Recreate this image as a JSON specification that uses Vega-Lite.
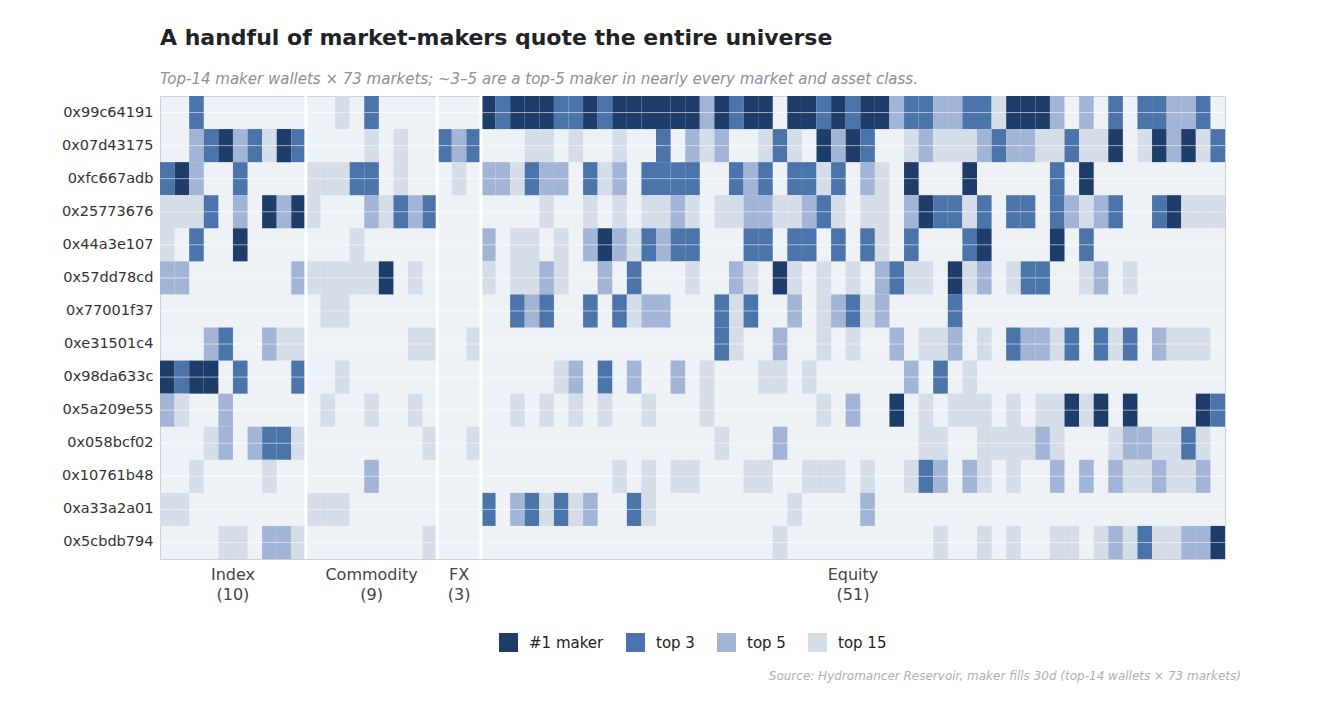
{
"$schema": "https://vega.github.io/schema/vega-lite/v6.json",
"background": "white",
"padding": {"left": 60, "top": 26, "right": 10, "bottom": 10},
"config": {"font": "DejaVu Sans", "view": {"stroke": null}, "legend": {"layout": {"bottom": {"anchor": "middle"}}}},
"title": {"text": "Source: Hydromancer Reservoir, maker fills 30d (top-14 wallets × 73 markets)", "orient": "bottom", "anchor": "end", "fontSize": 12, "fontStyle": "italic", "fontWeight": "normal", "color": "#b0b0b0", "offset": 19, "dx": 15},
"vconcat": [{
"width": 1065, "height": 463,
"title": {"text": "A handful of market-makers quote the entire universe", "subtitle": "Top-14 maker wallets × 73 markets; ~3–5 are a top-5 maker in nearly every market and asset class.", "anchor": "start", "frame": "group", "fontSize": 22, "fontWeight": "bold", "color": "#1f2328", "subtitleFontSize": 15, "subtitleFontStyle": "italic", "subtitleColor": "#8c9097", "subtitlePadding": 22, "offset": 7},
"view": {"fill": "#eef2f7", "stroke": "#c9d1db", "strokeWidth": 1},
"layer": [
{"data": {"values": [
{"w":"0x99c64191","m":2,"r":"top 3"},{"w":"0x99c64191","m":12,"r":"top 15"},{"w":"0x99c64191","m":14,"r":"top 3"},
{"w":"0x99c64191","m":22,"r":"#1 maker"},{"w":"0x99c64191","m":23,"r":"top 3"},{"w":"0x99c64191","m":24,"r":"#1 maker"},{"w":"0x99c64191","m":25,"r":"#1 maker"},{"w":"0x99c64191","m":26,"r":"#1 maker"},{"w":"0x99c64191","m":27,"r":"top 3"},{"w":"0x99c64191","m":28,"r":"top 3"},{"w":"0x99c64191","m":29,"r":"#1 maker"},{"w":"0x99c64191","m":30,"r":"top 3"},{"w":"0x99c64191","m":31,"r":"#1 maker"},{"w":"0x99c64191","m":32,"r":"#1 maker"},{"w":"0x99c64191","m":33,"r":"#1 maker"},{"w":"0x99c64191","m":34,"r":"#1 maker"},{"w":"0x99c64191","m":35,"r":"#1 maker"},{"w":"0x99c64191","m":36,"r":"#1 maker"},
{"w":"0x99c64191","m":37,"r":"top 5"},{"w":"0x99c64191","m":38,"r":"#1 maker"},{"w":"0x99c64191","m":39,"r":"top 3"},{"w":"0x99c64191","m":40,"r":"#1 maker"},{"w":"0x99c64191","m":41,"r":"#1 maker"},{"w":"0x99c64191","m":43,"r":"#1 maker"},{"w":"0x99c64191","m":44,"r":"#1 maker"},{"w":"0x99c64191","m":45,"r":"top 3"},{"w":"0x99c64191","m":46,"r":"#1 maker"},{"w":"0x99c64191","m":47,"r":"top 3"},{"w":"0x99c64191","m":48,"r":"#1 maker"},{"w":"0x99c64191","m":49,"r":"#1 maker"},{"w":"0x99c64191","m":50,"r":"top 5"},{"w":"0x99c64191","m":51,"r":"top 3"},{"w":"0x99c64191","m":52,"r":"top 3"},{"w":"0x99c64191","m":53,"r":"top 5"},{"w":"0x99c64191","m":54,"r":"top 5"},
{"w":"0x99c64191","m":55,"r":"top 3"},{"w":"0x99c64191","m":56,"r":"top 3"},{"w":"0x99c64191","m":57,"r":"top 15"},{"w":"0x99c64191","m":58,"r":"#1 maker"},{"w":"0x99c64191","m":59,"r":"#1 maker"},{"w":"0x99c64191","m":60,"r":"#1 maker"},{"w":"0x99c64191","m":61,"r":"top 5"},{"w":"0x99c64191","m":63,"r":"top 5"},{"w":"0x99c64191","m":65,"r":"top 3"},{"w":"0x99c64191","m":67,"r":"top 3"},{"w":"0x99c64191","m":68,"r":"top 3"},{"w":"0x99c64191","m":69,"r":"top 5"},{"w":"0x99c64191","m":70,"r":"top 5"},{"w":"0x99c64191","m":71,"r":"top 3"},

{"w":"0x07d43175","m":2,"r":"top 5"},{"w":"0x07d43175","m":3,"r":"top 3"},{"w":"0x07d43175","m":4,"r":"#1 maker"},{"w":"0x07d43175","m":5,"r":"top 5"},{"w":"0x07d43175","m":6,"r":"top 3"},{"w":"0x07d43175","m":7,"r":"top 15"},{"w":"0x07d43175","m":8,"r":"#1 maker"},{"w":"0x07d43175","m":9,"r":"top 3"},
{"w":"0x07d43175","m":14,"r":"top 15"},{"w":"0x07d43175","m":16,"r":"top 15"},
{"w":"0x07d43175","m":19,"r":"top 3"},{"w":"0x07d43175","m":20,"r":"top 5"},{"w":"0x07d43175","m":21,"r":"top 3"},
{"w":"0x07d43175","m":25,"r":"top 15"},{"w":"0x07d43175","m":26,"r":"top 15"},{"w":"0x07d43175","m":28,"r":"top 15"},{"w":"0x07d43175","m":31,"r":"top 15"},{"w":"0x07d43175","m":34,"r":"top 3"},{"w":"0x07d43175","m":36,"r":"top 5"},
{"w":"0x07d43175","m":37,"r":"top 15"},{"w":"0x07d43175","m":38,"r":"top 5"},{"w":"0x07d43175","m":41,"r":"top 15"},{"w":"0x07d43175","m":42,"r":"top 3"},{"w":"0x07d43175","m":43,"r":"top 15"},{"w":"0x07d43175","m":45,"r":"#1 maker"},{"w":"0x07d43175","m":46,"r":"top 5"},{"w":"0x07d43175","m":47,"r":"#1 maker"},{"w":"0x07d43175","m":48,"r":"top 3"},{"w":"0x07d43175","m":51,"r":"top 15"},{"w":"0x07d43175","m":52,"r":"top 5"},{"w":"0x07d43175","m":53,"r":"top 15"},{"w":"0x07d43175","m":54,"r":"top 15"},
{"w":"0x07d43175","m":55,"r":"top 15"},{"w":"0x07d43175","m":56,"r":"top 5"},{"w":"0x07d43175","m":57,"r":"top 3"},{"w":"0x07d43175","m":58,"r":"top 5"},{"w":"0x07d43175","m":59,"r":"top 5"},{"w":"0x07d43175","m":60,"r":"top 15"},{"w":"0x07d43175","m":61,"r":"top 15"},{"w":"0x07d43175","m":62,"r":"top 3"},{"w":"0x07d43175","m":63,"r":"top 15"},{"w":"0x07d43175","m":64,"r":"top 15"},{"w":"0x07d43175","m":65,"r":"#1 maker"},{"w":"0x07d43175","m":67,"r":"top 15"},{"w":"0x07d43175","m":68,"r":"#1 maker"},{"w":"0x07d43175","m":69,"r":"top 5"},{"w":"0x07d43175","m":70,"r":"#1 maker"},{"w":"0x07d43175","m":71,"r":"top 15"},{"w":"0x07d43175","m":72,"r":"top 3"},

{"w":"0xfc667adb","m":0,"r":"top 3"},{"w":"0xfc667adb","m":1,"r":"#1 maker"},{"w":"0xfc667adb","m":2,"r":"top 5"},{"w":"0xfc667adb","m":5,"r":"top 3"},
{"w":"0xfc667adb","m":10,"r":"top 15"},{"w":"0xfc667adb","m":11,"r":"top 15"},{"w":"0xfc667adb","m":12,"r":"top 15"},{"w":"0xfc667adb","m":13,"r":"top 3"},{"w":"0xfc667adb","m":14,"r":"top 3"},{"w":"0xfc667adb","m":16,"r":"top 15"},
{"w":"0xfc667adb","m":20,"r":"top 15"},
{"w":"0xfc667adb","m":22,"r":"top 5"},{"w":"0xfc667adb","m":23,"r":"top 5"},{"w":"0xfc667adb","m":24,"r":"top 15"},{"w":"0xfc667adb","m":25,"r":"top 3"},{"w":"0xfc667adb","m":26,"r":"top 5"},{"w":"0xfc667adb","m":27,"r":"top 5"},{"w":"0xfc667adb","m":29,"r":"top 3"},{"w":"0xfc667adb","m":30,"r":"top 15"},{"w":"0xfc667adb","m":31,"r":"top 5"},{"w":"0xfc667adb","m":33,"r":"top 3"},{"w":"0xfc667adb","m":34,"r":"top 3"},{"w":"0xfc667adb","m":35,"r":"top 3"},{"w":"0xfc667adb","m":36,"r":"top 3"},
{"w":"0xfc667adb","m":39,"r":"top 3"},{"w":"0xfc667adb","m":40,"r":"top 5"},{"w":"0xfc667adb","m":41,"r":"top 3"},{"w":"0xfc667adb","m":43,"r":"top 3"},{"w":"0xfc667adb","m":44,"r":"top 3"},{"w":"0xfc667adb","m":45,"r":"top 15"},{"w":"0xfc667adb","m":46,"r":"top 3"},{"w":"0xfc667adb","m":48,"r":"top 5"},{"w":"0xfc667adb","m":49,"r":"top 15"},{"w":"0xfc667adb","m":51,"r":"#1 maker"},
{"w":"0xfc667adb","m":55,"r":"#1 maker"},{"w":"0xfc667adb","m":61,"r":"top 3"},{"w":"0xfc667adb","m":63,"r":"#1 maker"},

{"w":"0x25773676","m":0,"r":"top 15"},{"w":"0x25773676","m":1,"r":"top 15"},{"w":"0x25773676","m":2,"r":"top 15"},{"w":"0x25773676","m":3,"r":"top 3"},{"w":"0x25773676","m":5,"r":"top 5"},{"w":"0x25773676","m":7,"r":"#1 maker"},{"w":"0x25773676","m":8,"r":"top 5"},{"w":"0x25773676","m":9,"r":"#1 maker"},
{"w":"0x25773676","m":10,"r":"top 15"},{"w":"0x25773676","m":14,"r":"top 5"},{"w":"0x25773676","m":15,"r":"top 15"},{"w":"0x25773676","m":16,"r":"top 3"},{"w":"0x25773676","m":17,"r":"top 5"},{"w":"0x25773676","m":18,"r":"top 3"},
{"w":"0x25773676","m":26,"r":"top 15"},{"w":"0x25773676","m":29,"r":"top 15"},{"w":"0x25773676","m":31,"r":"top 15"},{"w":"0x25773676","m":33,"r":"top 15"},{"w":"0x25773676","m":34,"r":"top 15"},{"w":"0x25773676","m":35,"r":"top 5"},{"w":"0x25773676","m":36,"r":"top 15"},
{"w":"0x25773676","m":38,"r":"top 15"},{"w":"0x25773676","m":39,"r":"top 15"},{"w":"0x25773676","m":40,"r":"top 5"},{"w":"0x25773676","m":41,"r":"top 5"},{"w":"0x25773676","m":42,"r":"top 15"},{"w":"0x25773676","m":43,"r":"top 15"},{"w":"0x25773676","m":44,"r":"top 5"},{"w":"0x25773676","m":45,"r":"top 3"},{"w":"0x25773676","m":46,"r":"top 15"},{"w":"0x25773676","m":48,"r":"top 15"},{"w":"0x25773676","m":49,"r":"top 15"},{"w":"0x25773676","m":51,"r":"top 5"},{"w":"0x25773676","m":52,"r":"#1 maker"},{"w":"0x25773676","m":53,"r":"top 3"},{"w":"0x25773676","m":54,"r":"top 3"},
{"w":"0x25773676","m":55,"r":"top 15"},{"w":"0x25773676","m":56,"r":"top 3"},{"w":"0x25773676","m":58,"r":"top 3"},{"w":"0x25773676","m":59,"r":"top 3"},{"w":"0x25773676","m":61,"r":"top 3"},{"w":"0x25773676","m":62,"r":"top 5"},{"w":"0x25773676","m":63,"r":"top 15"},{"w":"0x25773676","m":64,"r":"top 5"},{"w":"0x25773676","m":65,"r":"top 3"},{"w":"0x25773676","m":68,"r":"top 3"},{"w":"0x25773676","m":69,"r":"#1 maker"},{"w":"0x25773676","m":70,"r":"top 15"},{"w":"0x25773676","m":71,"r":"top 15"},{"w":"0x25773676","m":72,"r":"top 15"},

{"w":"0x44a3e107","m":0,"r":"top 15"},{"w":"0x44a3e107","m":2,"r":"top 3"},{"w":"0x44a3e107","m":5,"r":"#1 maker"},
{"w":"0x44a3e107","m":13,"r":"top 15"},
{"w":"0x44a3e107","m":22,"r":"top 5"},{"w":"0x44a3e107","m":24,"r":"top 15"},{"w":"0x44a3e107","m":25,"r":"top 15"},{"w":"0x44a3e107","m":27,"r":"top 15"},{"w":"0x44a3e107","m":29,"r":"top 5"},{"w":"0x44a3e107","m":30,"r":"#1 maker"},{"w":"0x44a3e107","m":31,"r":"top 5"},{"w":"0x44a3e107","m":32,"r":"top 15"},{"w":"0x44a3e107","m":33,"r":"top 3"},{"w":"0x44a3e107","m":34,"r":"top 5"},{"w":"0x44a3e107","m":35,"r":"top 3"},{"w":"0x44a3e107","m":36,"r":"top 3"},
{"w":"0x44a3e107","m":40,"r":"top 3"},{"w":"0x44a3e107","m":41,"r":"top 3"},{"w":"0x44a3e107","m":43,"r":"top 3"},{"w":"0x44a3e107","m":44,"r":"top 3"},{"w":"0x44a3e107","m":46,"r":"top 3"},{"w":"0x44a3e107","m":48,"r":"top 3"},{"w":"0x44a3e107","m":49,"r":"top 15"},{"w":"0x44a3e107","m":51,"r":"top 3"},
{"w":"0x44a3e107","m":55,"r":"top 3"},{"w":"0x44a3e107","m":56,"r":"#1 maker"},{"w":"0x44a3e107","m":61,"r":"#1 maker"},{"w":"0x44a3e107","m":63,"r":"top 3"},

{"w":"0x57dd78cd","m":0,"r":"top 5"},{"w":"0x57dd78cd","m":1,"r":"top 5"},{"w":"0x57dd78cd","m":9,"r":"top 5"},
{"w":"0x57dd78cd","m":10,"r":"top 15"},{"w":"0x57dd78cd","m":11,"r":"top 15"},{"w":"0x57dd78cd","m":12,"r":"top 15"},{"w":"0x57dd78cd","m":13,"r":"top 15"},{"w":"0x57dd78cd","m":14,"r":"top 15"},{"w":"0x57dd78cd","m":15,"r":"#1 maker"},{"w":"0x57dd78cd","m":17,"r":"top 15"},
{"w":"0x57dd78cd","m":22,"r":"top 15"},{"w":"0x57dd78cd","m":24,"r":"top 15"},{"w":"0x57dd78cd","m":25,"r":"top 15"},{"w":"0x57dd78cd","m":26,"r":"top 5"},{"w":"0x57dd78cd","m":27,"r":"top 15"},{"w":"0x57dd78cd","m":30,"r":"top 5"},{"w":"0x57dd78cd","m":32,"r":"top 3"},{"w":"0x57dd78cd","m":36,"r":"top 15"},
{"w":"0x57dd78cd","m":39,"r":"top 5"},{"w":"0x57dd78cd","m":40,"r":"top 15"},{"w":"0x57dd78cd","m":42,"r":"#1 maker"},{"w":"0x57dd78cd","m":43,"r":"top 15"},{"w":"0x57dd78cd","m":45,"r":"top 15"},{"w":"0x57dd78cd","m":47,"r":"top 15"},{"w":"0x57dd78cd","m":49,"r":"top 5"},{"w":"0x57dd78cd","m":50,"r":"top 3"},{"w":"0x57dd78cd","m":51,"r":"top 15"},{"w":"0x57dd78cd","m":52,"r":"top 15"},{"w":"0x57dd78cd","m":54,"r":"#1 maker"},
{"w":"0x57dd78cd","m":55,"r":"top 15"},{"w":"0x57dd78cd","m":56,"r":"top 5"},{"w":"0x57dd78cd","m":58,"r":"top 15"},{"w":"0x57dd78cd","m":59,"r":"top 3"},{"w":"0x57dd78cd","m":60,"r":"top 3"},{"w":"0x57dd78cd","m":63,"r":"top 15"},{"w":"0x57dd78cd","m":64,"r":"top 5"},{"w":"0x57dd78cd","m":66,"r":"top 15"},

{"w":"0x77001f37","m":11,"r":"top 15"},{"w":"0x77001f37","m":12,"r":"top 15"},
{"w":"0x77001f37","m":24,"r":"top 3"},{"w":"0x77001f37","m":25,"r":"top 5"},{"w":"0x77001f37","m":26,"r":"top 3"},{"w":"0x77001f37","m":29,"r":"top 3"},{"w":"0x77001f37","m":31,"r":"top 3"},{"w":"0x77001f37","m":32,"r":"top 15"},{"w":"0x77001f37","m":33,"r":"top 5"},{"w":"0x77001f37","m":34,"r":"top 5"},
{"w":"0x77001f37","m":38,"r":"top 3"},{"w":"0x77001f37","m":39,"r":"top 15"},{"w":"0x77001f37","m":40,"r":"top 3"},{"w":"0x77001f37","m":43,"r":"top 5"},{"w":"0x77001f37","m":45,"r":"top 15"},{"w":"0x77001f37","m":46,"r":"top 5"},{"w":"0x77001f37","m":47,"r":"top 3"},{"w":"0x77001f37","m":48,"r":"top 15"},{"w":"0x77001f37","m":49,"r":"top 5"},{"w":"0x77001f37","m":54,"r":"top 3"},

{"w":"0xe31501c4","m":3,"r":"top 5"},{"w":"0xe31501c4","m":4,"r":"top 3"},{"w":"0xe31501c4","m":7,"r":"top 5"},{"w":"0xe31501c4","m":8,"r":"top 15"},{"w":"0xe31501c4","m":9,"r":"top 15"},
{"w":"0xe31501c4","m":17,"r":"top 15"},{"w":"0xe31501c4","m":18,"r":"top 15"},{"w":"0xe31501c4","m":21,"r":"top 15"},
{"w":"0xe31501c4","m":38,"r":"top 3"},{"w":"0xe31501c4","m":39,"r":"top 15"},{"w":"0xe31501c4","m":42,"r":"top 5"},{"w":"0xe31501c4","m":45,"r":"top 15"},{"w":"0xe31501c4","m":47,"r":"top 15"},{"w":"0xe31501c4","m":50,"r":"top 5"},{"w":"0xe31501c4","m":52,"r":"top 15"},{"w":"0xe31501c4","m":53,"r":"top 15"},{"w":"0xe31501c4","m":54,"r":"top 5"},
{"w":"0xe31501c4","m":56,"r":"top 15"},{"w":"0xe31501c4","m":58,"r":"top 3"},{"w":"0xe31501c4","m":59,"r":"top 5"},{"w":"0xe31501c4","m":60,"r":"top 5"},{"w":"0xe31501c4","m":61,"r":"top 15"},{"w":"0xe31501c4","m":62,"r":"top 3"},{"w":"0xe31501c4","m":64,"r":"top 3"},{"w":"0xe31501c4","m":65,"r":"top 15"},{"w":"0xe31501c4","m":66,"r":"top 3"},{"w":"0xe31501c4","m":68,"r":"top 5"},{"w":"0xe31501c4","m":69,"r":"top 15"},{"w":"0xe31501c4","m":70,"r":"top 15"},{"w":"0xe31501c4","m":71,"r":"top 15"},

{"w":"0x98da633c","m":0,"r":"#1 maker"},{"w":"0x98da633c","m":1,"r":"top 3"},{"w":"0x98da633c","m":2,"r":"#1 maker"},{"w":"0x98da633c","m":3,"r":"#1 maker"},{"w":"0x98da633c","m":5,"r":"top 3"},{"w":"0x98da633c","m":9,"r":"top 3"},
{"w":"0x98da633c","m":12,"r":"top 15"},
{"w":"0x98da633c","m":27,"r":"top 15"},{"w":"0x98da633c","m":28,"r":"top 5"},{"w":"0x98da633c","m":30,"r":"top 3"},{"w":"0x98da633c","m":32,"r":"top 5"},{"w":"0x98da633c","m":35,"r":"top 5"},
{"w":"0x98da633c","m":37,"r":"top 15"},{"w":"0x98da633c","m":41,"r":"top 15"},{"w":"0x98da633c","m":42,"r":"top 15"},{"w":"0x98da633c","m":44,"r":"top 15"},{"w":"0x98da633c","m":51,"r":"top 5"},{"w":"0x98da633c","m":53,"r":"top 3"},
{"w":"0x98da633c","m":55,"r":"top 15"},

{"w":"0x5a209e55","m":0,"r":"top 5"},{"w":"0x5a209e55","m":1,"r":"top 15"},{"w":"0x5a209e55","m":4,"r":"top 5"},
{"w":"0x5a209e55","m":11,"r":"top 15"},{"w":"0x5a209e55","m":14,"r":"top 15"},{"w":"0x5a209e55","m":17,"r":"top 15"},
{"w":"0x5a209e55","m":24,"r":"top 15"},{"w":"0x5a209e55","m":26,"r":"top 15"},{"w":"0x5a209e55","m":28,"r":"top 15"},{"w":"0x5a209e55","m":30,"r":"top 15"},{"w":"0x5a209e55","m":33,"r":"top 15"},
{"w":"0x5a209e55","m":37,"r":"top 15"},{"w":"0x5a209e55","m":45,"r":"top 15"},{"w":"0x5a209e55","m":47,"r":"top 5"},{"w":"0x5a209e55","m":50,"r":"#1 maker"},{"w":"0x5a209e55","m":52,"r":"top 15"},{"w":"0x5a209e55","m":54,"r":"top 15"},
{"w":"0x5a209e55","m":55,"r":"top 15"},{"w":"0x5a209e55","m":56,"r":"top 15"},{"w":"0x5a209e55","m":58,"r":"top 15"},{"w":"0x5a209e55","m":60,"r":"top 15"},{"w":"0x5a209e55","m":61,"r":"top 15"},{"w":"0x5a209e55","m":62,"r":"#1 maker"},{"w":"0x5a209e55","m":63,"r":"top 15"},{"w":"0x5a209e55","m":64,"r":"#1 maker"},{"w":"0x5a209e55","m":66,"r":"#1 maker"},{"w":"0x5a209e55","m":71,"r":"#1 maker"},{"w":"0x5a209e55","m":72,"r":"top 3"},

{"w":"0x058bcf02","m":3,"r":"top 15"},{"w":"0x058bcf02","m":4,"r":"top 5"},{"w":"0x058bcf02","m":6,"r":"top 5"},{"w":"0x058bcf02","m":7,"r":"top 3"},{"w":"0x058bcf02","m":8,"r":"top 3"},{"w":"0x058bcf02","m":9,"r":"top 15"},
{"w":"0x058bcf02","m":18,"r":"top 15"},{"w":"0x058bcf02","m":21,"r":"top 15"},
{"w":"0x058bcf02","m":38,"r":"top 15"},{"w":"0x058bcf02","m":42,"r":"top 5"},{"w":"0x058bcf02","m":52,"r":"top 15"},{"w":"0x058bcf02","m":53,"r":"top 15"},
{"w":"0x058bcf02","m":56,"r":"top 15"},{"w":"0x058bcf02","m":57,"r":"top 15"},{"w":"0x058bcf02","m":58,"r":"top 15"},{"w":"0x058bcf02","m":59,"r":"top 15"},{"w":"0x058bcf02","m":60,"r":"top 5"},{"w":"0x058bcf02","m":61,"r":"top 15"},{"w":"0x058bcf02","m":65,"r":"top 15"},{"w":"0x058bcf02","m":66,"r":"top 5"},{"w":"0x058bcf02","m":67,"r":"top 5"},{"w":"0x058bcf02","m":68,"r":"top 15"},{"w":"0x058bcf02","m":69,"r":"top 15"},{"w":"0x058bcf02","m":70,"r":"top 3"},{"w":"0x058bcf02","m":71,"r":"top 15"},

{"w":"0x10761b48","m":2,"r":"top 15"},{"w":"0x10761b48","m":7,"r":"top 15"},
{"w":"0x10761b48","m":14,"r":"top 5"},
{"w":"0x10761b48","m":31,"r":"top 15"},{"w":"0x10761b48","m":33,"r":"top 15"},{"w":"0x10761b48","m":35,"r":"top 15"},{"w":"0x10761b48","m":36,"r":"top 15"},
{"w":"0x10761b48","m":40,"r":"top 15"},{"w":"0x10761b48","m":41,"r":"top 15"},{"w":"0x10761b48","m":44,"r":"top 15"},{"w":"0x10761b48","m":45,"r":"top 15"},{"w":"0x10761b48","m":46,"r":"top 15"},{"w":"0x10761b48","m":48,"r":"top 15"},{"w":"0x10761b48","m":51,"r":"top 15"},{"w":"0x10761b48","m":52,"r":"top 3"},{"w":"0x10761b48","m":53,"r":"top 5"},
{"w":"0x10761b48","m":55,"r":"top 5"},{"w":"0x10761b48","m":56,"r":"top 15"},{"w":"0x10761b48","m":58,"r":"top 15"},{"w":"0x10761b48","m":61,"r":"top 5"},{"w":"0x10761b48","m":63,"r":"top 5"},{"w":"0x10761b48","m":65,"r":"top 5"},{"w":"0x10761b48","m":66,"r":"top 15"},{"w":"0x10761b48","m":67,"r":"top 15"},{"w":"0x10761b48","m":68,"r":"top 5"},{"w":"0x10761b48","m":69,"r":"top 15"},{"w":"0x10761b48","m":70,"r":"top 15"},{"w":"0x10761b48","m":71,"r":"top 5"},

{"w":"0xa33a2a01","m":0,"r":"top 15"},{"w":"0xa33a2a01","m":1,"r":"top 15"},
{"w":"0xa33a2a01","m":10,"r":"top 15"},{"w":"0xa33a2a01","m":11,"r":"top 15"},{"w":"0xa33a2a01","m":12,"r":"top 15"},
{"w":"0xa33a2a01","m":22,"r":"top 3"},{"w":"0xa33a2a01","m":24,"r":"top 5"},{"w":"0xa33a2a01","m":25,"r":"top 3"},{"w":"0xa33a2a01","m":26,"r":"top 15"},{"w":"0xa33a2a01","m":27,"r":"top 3"},{"w":"0xa33a2a01","m":28,"r":"top 15"},{"w":"0xa33a2a01","m":29,"r":"top 5"},{"w":"0xa33a2a01","m":32,"r":"top 3"},{"w":"0xa33a2a01","m":33,"r":"top 15"},
{"w":"0xa33a2a01","m":43,"r":"top 15"},{"w":"0xa33a2a01","m":48,"r":"top 5"},

{"w":"0x5cbdb794","m":4,"r":"top 15"},{"w":"0x5cbdb794","m":5,"r":"top 15"},{"w":"0x5cbdb794","m":7,"r":"top 5"},{"w":"0x5cbdb794","m":8,"r":"top 5"},{"w":"0x5cbdb794","m":9,"r":"top 15"},
{"w":"0x5cbdb794","m":18,"r":"top 15"},
{"w":"0x5cbdb794","m":42,"r":"top 15"},{"w":"0x5cbdb794","m":53,"r":"top 15"},
{"w":"0x5cbdb794","m":56,"r":"top 15"},{"w":"0x5cbdb794","m":58,"r":"top 15"},{"w":"0x5cbdb794","m":61,"r":"top 15"},{"w":"0x5cbdb794","m":62,"r":"top 15"},{"w":"0x5cbdb794","m":64,"r":"top 15"},{"w":"0x5cbdb794","m":65,"r":"top 5"},{"w":"0x5cbdb794","m":66,"r":"top 15"},{"w":"0x5cbdb794","m":67,"r":"top 3"},{"w":"0x5cbdb794","m":68,"r":"top 15"},{"w":"0x5cbdb794","m":69,"r":"top 15"},{"w":"0x5cbdb794","m":70,"r":"top 5"},{"w":"0x5cbdb794","m":71,"r":"top 5"},{"w":"0x5cbdb794","m":72,"r":"#1 maker"}
]},
"mark": {"type": "rect"},
"encoding": {
"x": {"field": "m", "type": "ordinal", "scale": {"domain": [0,1,2,3,4,5,6,7,8,9,10,11,12,13,14,15,16,17,18,19,20,21,22,23,24,25,26,27,28,29,30,31,32,33,34,35,36,37,38,39,40,41,42,43,44,45,46,47,48,49,50,51,52,53,54,55,56,57,58,59,60,61,62,63,64,65,66,67,68,69,70,71,72]},
  "axis": {"values": [5,14,20,47], "labelExpr": "datum.value == 5 ? ['Index','(10)'] : datum.value == 14 ? ['Commodity','(9)'] : datum.value == 20 ? ['FX','(3)'] : ['Equity','(51)']", "labelAngle": 0, "ticks": false, "domain": false, "title": null, "labelFontSize": 16, "labelColor": "#444444", "labelLineHeight": 20, "labelPadding": 7, "labelOverlap": false, "labelOffset": {"condition": {"test": "datum.value == 5", "value": -7.3}, "value": 0}}},
"y": {"field": "w", "type": "nominal", "scale": {"domain": ["0x99c64191","0x07d43175","0xfc667adb","0x25773676","0x44a3e107","0x57dd78cd","0x77001f37","0xe31501c4","0x98da633c","0x5a209e55","0x058bcf02","0x10761b48","0xa33a2a01","0x5cbdb794"]},
  "axis": {"title": null, "ticks": false, "domain": false, "labelFontSize": 14.5, "labelColor": "#333333", "labelPadding": 7}},
"color": {"field": "r", "type": "nominal", "scale": {"domain": ["#1 maker","top 3","top 5","top 15"], "range": ["#1f3d6b","#4a74aa","#a3b5d6","#d4dde8"]},
  "legend": {"title": null, "orient": "bottom", "direction": "horizontal", "symbolType": "square", "symbolSize": 361, "symbolStrokeWidth": 0, "labelFontSize": 15, "labelColor": "#222222", "columnPadding": 22, "labelOffset": 11, "offset": 30}}
}},
{"data": {"values": [{"w":"0x99c64191"},{"w":"0x07d43175"},{"w":"0xfc667adb"},{"w":"0x25773676"},{"w":"0x44a3e107"},{"w":"0x57dd78cd"},{"w":"0x77001f37"},{"w":"0xe31501c4"},{"w":"0x98da633c"},{"w":"0x5a209e55"},{"w":"0x058bcf02"},{"w":"0x10761b48"},{"w":"0xa33a2a01"},{"w":"0x5cbdb794"}]},
"mark": {"type": "rule", "color": "#ffffff", "opacity": 0.55, "strokeWidth": 1},
"encoding": {"y": {"field": "w", "type": "nominal", "bandPosition": 0.5, "scale": {"domain": ["0x99c64191","0x07d43175","0xfc667adb","0x25773676","0x44a3e107","0x57dd78cd","0x77001f37","0xe31501c4","0x98da633c","0x5a209e55","0x058bcf02","0x10761b48","0xa33a2a01","0x5cbdb794"]},
  "axis": {"title": null, "ticks": false, "domain": false, "labelFontSize": 14.5, "labelColor": "#333333", "labelPadding": 7}}}},
{"data": {"values": [{"m":10},{"m":19},{"m":22}]},
"mark": {"type": "rule", "color": "#ffffff", "strokeWidth": 3},
"encoding": {"x": {"field": "m", "type": "ordinal", "bandPosition": 0, "scale": {"domain": [0,1,2,3,4,5,6,7,8,9,10,11,12,13,14,15,16,17,18,19,20,21,22,23,24,25,26,27,28,29,30,31,32,33,34,35,36,37,38,39,40,41,42,43,44,45,46,47,48,49,50,51,52,53,54,55,56,57,58,59,60,61,62,63,64,65,66,67,68,69,70,71,72]},
  "axis": {"values": [5,14,20,47], "labelExpr": "datum.value == 5 ? ['Index','(10)'] : datum.value == 14 ? ['Commodity','(9)'] : datum.value == 20 ? ['FX','(3)'] : ['Equity','(51)']", "labelAngle": 0, "ticks": false, "domain": false, "title": null, "labelFontSize": 16, "labelColor": "#444444", "labelLineHeight": 20, "labelPadding": 7, "labelOverlap": false, "labelOffset": {"condition": {"test": "datum.value == 5", "value": -7.3}, "value": 0}}}}}
]
}]
}
